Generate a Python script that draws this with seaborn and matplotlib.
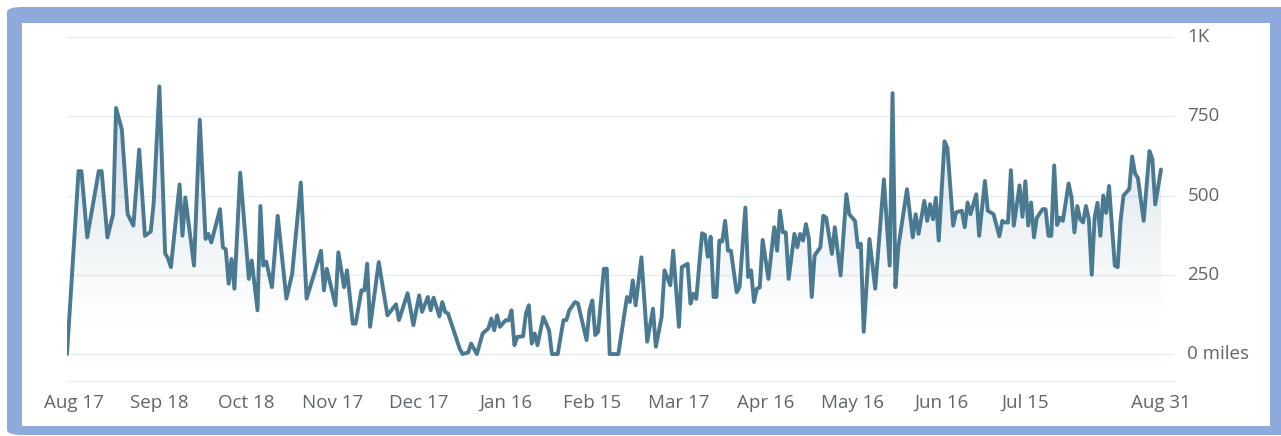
import numpy as np
import pandas as pd
import matplotlib
matplotlib.use("Agg")
import matplotlib.pyplot as plt
import matplotlib.transforms as mtransforms
from matplotlib.patches import FancyBboxPatch, Rectangle
import seaborn as sns

# ---------------- data ----------------
start_date = "2022-08-17"
day_offset = [0, 4, 5, 7, 11, 12, 14, 16, 17, 19, 21, 23, 25, 27, 29, 30, 32, 34, 35, 36,
              39, 40, 41, 44, 46, 48, 49, 50, 53, 54, 55, 56, 57, 58, 60, 63, 64, 66, 67, 68,
              69, 71, 73, 76, 78, 81, 83, 86, 88, 89, 90, 93, 94, 96, 97, 99, 100, 102, 103, 104,
              105, 108, 111, 114, 115, 118, 120, 122, 123, 125, 126, 127, 129, 130, 131, 132, 136, 137, 139, 140,
              142, 144, 146, 147, 148, 149, 150, 152, 153, 154, 155, 156, 158, 159, 160, 161, 162, 163, 165, 167,
              168, 170, 172, 173, 174, 176, 177, 180, 181, 182, 183, 184, 186, 187, 188, 191, 194, 195, 196, 197,
              199, 201, 203, 204, 206, 207, 209, 210, 212, 213, 215, 216, 217, 218, 220, 221, 222, 223, 224, 225,
              226, 227, 228, 229, 230, 232, 233, 235, 236, 237, 238, 239, 240, 241, 243, 245, 246, 247, 248, 249,
              250, 252, 253, 254, 255, 256, 257, 258, 259, 261, 262, 263, 265, 266, 268, 270, 271, 273, 274, 275,
              276, 278, 280, 283, 285, 286, 287, 288, 291, 293, 294, 295, 297, 298, 299, 300, 301, 302, 304, 305,
              307, 308, 310, 311, 312, 313, 315, 316, 318, 319, 321, 323, 324, 325, 326, 327, 328, 330, 331, 332,
              333, 334, 335, 336, 338, 339, 340, 341, 342, 343, 344, 345, 347, 348, 349, 350, 351, 352, 353, 354,
              355, 356, 357, 358, 359, 360, 361, 363, 364, 365, 366, 368, 369, 370, 371, 373, 375, 376, 377, 379]
miles = [0, 577, 577, 368, 577, 577, 368, 442, 776, 708, 442, 405, 645, 373, 386, 473, 844, 317, 302, 274,
         535, 373, 494, 279, 739, 363, 379, 352, 457, 337, 330, 222, 300, 206, 572, 237, 295, 138, 467, 279,
         292, 211, 436, 175, 253, 541, 175, 264, 326, 201, 269, 154, 321, 211, 264, 96, 96, 201, 201, 285,
         86, 290, 122, 157, 107, 192, 91, 185, 133, 180, 138, 178, 119, 164, 133, 128, 18, 0, 5, 33,
         0, 65, 81, 112, 75, 122, 86, 107, 106, 138, 28, 54, 56, 128, 154, 33, 65, 28, 117, 75,
         0, 0, 107, 107, 138, 164, 160, 44, 138, 169, 60, 70, 269, 269, 0, 0, 180, 164, 232, 154,
         305, 39, 143, 23, 117, 264, 217, 326, 86, 274, 285, 159, 190, 174, 381, 376, 307, 370, 180, 180,
         358, 355, 420, 326, 326, 195, 211, 462, 243, 264, 164, 206, 210, 360, 237, 400, 326, 452, 384, 384,
         237, 379, 337, 379, 358, 410, 365, 180, 311, 337, 436, 430, 316, 400, 248, 504, 441, 420, 337, 348,
         70, 363, 206, 551, 279, 823, 211, 337, 520, 368, 441, 379, 483, 420, 473, 425, 493, 358, 671, 650,
         405, 447, 452, 400, 478, 441, 504, 373, 546, 452, 441, 371, 420, 415, 415, 580, 405, 532, 433, 545,
         405, 478, 368, 430, 457, 457, 373, 373, 595, 407, 430, 420, 538, 494, 384, 467, 425, 415, 467, 425,
         250, 430, 477, 373, 500, 445, 530, 279, 274, 420, 500, 520, 623, 570, 555, 420, 640, 616, 472, 582]
tick_dates = ["2022-08-17", "2022-09-18", "2022-10-18", "2022-11-17", "2022-12-17", "2023-01-16",
              "2023-02-15", "2023-03-17", "2023-04-16", "2023-05-16", "2023-06-16", "2023-07-15",
              "2023-08-31"]
tick_labels = ["Aug 17", "Sep 18", "Oct 18", "Nov 17", "Dec 17", "Jan 16", "Feb 15", "Mar 17",
               "Apr 16", "May 16", "Jun 16", "Jul 15", "Aug 31"]
y_ticks = [0, 250, 500, 750, 1000]
y_labels = ["0 miles", "250", "500", "750", "1K"]

df = pd.DataFrame({"day": day_offset, "miles": miles})
t0 = pd.Timestamp(start_date)
tick_pos = [(pd.Timestamp(d) - t0).days for d in tick_dates]

# ---------------- style ----------------
LINE = "#4a7a92"
GRID = "#e6edf0"
TEXT = "#5f6569"
FRAME = "#8eaadc"

sns.set_theme(style="white")
plt.rcParams["font.family"] = ["Open Sans", "DejaVu Sans"]

W, H = 1281, 436
fig = plt.figure(figsize=(W / 100, H / 100), dpi=100)
fig.patch.set_facecolor("white")

# frame
frame = FancyBboxPatch((7 / W, 1 - 435 / H), (W + 20 - 7) / W, (435 - 7) / H,
                       boxstyle="round,pad=0,rounding_size=0.012", transform=fig.transFigure,
                       facecolor=FRAME, edgecolor="none", zorder=-3)
fig.patches.append(frame)
inner = Rectangle((22 / W, 1 - 426 / H), (1270 - 22) / W, (426 - 23) / H,
                  transform=fig.transFigure, facecolor="white", edgecolor="none", zorder=-2)
fig.patches.append(inner)

left, right = 67, 1175
top, bottom = 37, 381
ax = fig.add_axes([left / W, 1 - bottom / H, (right - left) / W, (bottom - top) / H])
ax.set_zorder(1)
ax.set_facecolor("none")

px_per_day = (1161 - 67) / 379.0
ax.set_xlim(0, (right - left) / px_per_day)
ax.set_ylim(-85, 1000)

# gradient fill under the line
verts = ax.fill_between(df["day"], df["miles"], 0, facecolor="none", edgecolor="none")
ny = 256
alpha = np.linspace(0.0, 1.0, ny) ** 1.1 * 0.36
rgb = matplotlib.colors.to_rgb("#7e9fb3")
grad = np.zeros((ny, 2, 4))
grad[..., 0], grad[..., 1], grad[..., 2] = rgb
grad[..., 3] = alpha[:, None]
im = ax.imshow(grad, extent=[0, 379, 80, 860], origin="lower", aspect="auto", zorder=1,
               interpolation="bilinear")
im.set_clip_path(verts.get_paths()[0], transform=ax.transData)

sns.lineplot(data=df, x="day", y="miles", ax=ax, color=LINE, linewidth=2.8, zorder=3)

ax.set_xlim(0, (right - left) / px_per_day)
ax.set_ylim(-85, 1000)

# grid
for yv in y_ticks:
    ax.axhline(yv, color=GRID, linewidth=1.0, zorder=0.8)

for s in ["top", "left", "right"]:
    ax.spines[s].set_visible(False)
ax.spines["bottom"].set_color(GRID)
ax.spines["bottom"].set_linewidth(1.0)

ax.yaxis.tick_right()
ax.set_yticks(y_ticks)
ax.set_yticklabels(y_labels)
ax.set_xticks(tick_pos)
ax.set_xticklabels(tick_labels)
ax.tick_params(axis="both", length=0, labelsize=13.5, labelcolor=TEXT)
ax.tick_params(axis="y", pad=9)
ax.tick_params(axis="x", pad=9)
for lab in ax.get_yticklabels():
    lab.set_verticalalignment("center")
first = ax.get_xticklabels()[0]
first.set_transform(first.get_transform() + mtransforms.ScaledTranslation(7 / 100, 0, fig.dpi_scale_trans))

ax.set_xlabel("")
ax.set_ylabel("")
ax.grid(False)

fig.savefig("out.png", dpi=100, facecolor="white")
